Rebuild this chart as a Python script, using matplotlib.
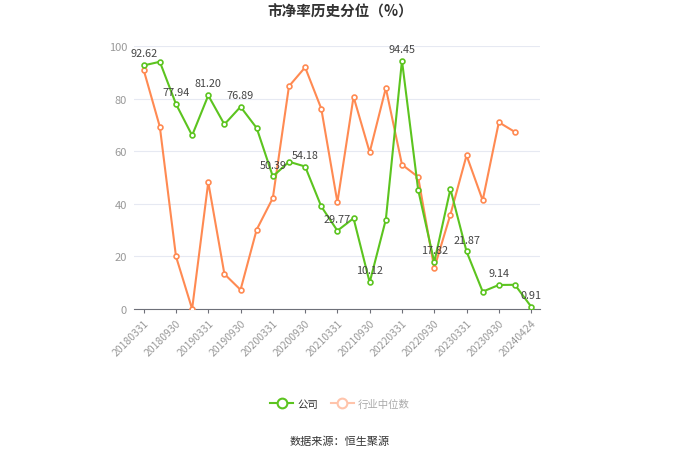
import matplotlib
matplotlib.use('Agg')
import matplotlib.pyplot as plt
from matplotlib.lines import Line2D

plt.rcParams['font.family'] = ['Noto Sans CJK SC', 'DejaVu Sans']

# 日期(季度) 与两组分位数据
dates = ['20180331', '20180630', '20180930', '20181231', '20190331', '20190630',
         '20190930', '20191231', '20200331', '20200630', '20200930', '20201231',
         '20210331', '20210630', '20210930', '20211231', '20220331', '20220630',
         '20220930', '20221231', '20230331', '20230630', '20230930', '20231231',
         '20240424']
company = [92.62, 94.0, 77.94, 66.0, 81.20, 70.2, 76.89, 68.8, 50.39, 56.0,
           54.18, 39.0, 29.77, 34.5, 10.12, 34.0, 94.45, 45.4, 17.82, 45.6,
           21.87, 6.6, 9.14, 9.2, 0.91]
industry = [90.9, 69.3, 20.0, 0.0, 48.2, 13.3, 7.3, 30.2, 42.2, 84.7,
            91.9, 76.2, 40.6, 80.7, 59.6, 84.0, 54.9, 50.2, 15.5, 35.9,
            58.4, 41.3, 71.0, 67.3]

green = '#5cc41f'
orange = '#ff8a52'

fig = plt.figure(figsize=(6.8, 4.6), dpi=100)
ax = fig.add_axes([134 / 680, 1 - 310 / 460, 406 / 680, 263 / 460])

x = list(range(len(dates)))
ax.plot(x[:len(industry)], industry, color=orange, lw=1.5, marker='o', ms=3.5,
        mfc='white', mec=orange, mew=1.2, zorder=3)
ax.plot(x, company, color=green, lw=1.5, marker='o', ms=3.5,
        mfc='white', mec=green, mew=1.2, zorder=4)

# 公司数据标签（隔一个显示）
for i in range(0, len(company), 2):
    ax.annotate(f'{company[i]:.2f}', (x[i], company[i]), xytext=(0, 5),
                textcoords='offset points', ha='center', va='bottom',
                fontsize=7.8, color='#444444', zorder=5)

ax.set_xlim(-0.6, len(dates) - 0.45)
ax.set_ylim(0, 100)
ax.set_yticks([0, 20, 40, 60, 80, 100])
ax.set_xticks(x[::2])
ax.set_xticklabels(dates[::2], rotation=45, ha='right', rotation_mode='anchor')
ax.tick_params(axis='x', colors='#6e7079', labelcolor='#999999', labelsize=7.5,
               length=3, pad=3)
ax.tick_params(axis='y', length=0, labelcolor='#999999', labelsize=8, pad=5)
ax.grid(axis='y', color='#e6e9f2', lw=0.8)
ax.set_axisbelow(True)
for s in ['left', 'right', 'top']:
    ax.spines[s].set_visible(False)
ax.spines['bottom'].set_color('#6e7079')

fig.text(0.5, 1 - 12 / 460, '市净率历史分位（%）', ha='center', va='center',
         fontsize=10.5, fontweight='bold', color='#333333')

handles = [
    Line2D([], [], color=green, lw=1.5, marker='o', ms=7, mfc='white', mec=green, mew=1.5),
    Line2D([], [], color='#ffc4ab', lw=1.5, marker='o', ms=7, mfc='white', mec='#ffc4ab', mew=1.5),
]
leg = fig.legend(handles, ['公司', '行业中位数'], loc='center',
                 bbox_to_anchor=(0.5, 1 - 405 / 460), ncol=2, frameon=False,
                 fontsize=7.5, handlelength=2.2, columnspacing=1.2, handletextpad=0.4)
leg.get_texts()[0].set_color('#333333')
leg.get_texts()[1].set_color('#aaaaaa')

fig.text(0.5, 1 - 442 / 460, '数据来源：恒生聚源', ha='center', va='center',
         fontsize=8, color='#333333')

fig.savefig('out.png', dpi=100)
